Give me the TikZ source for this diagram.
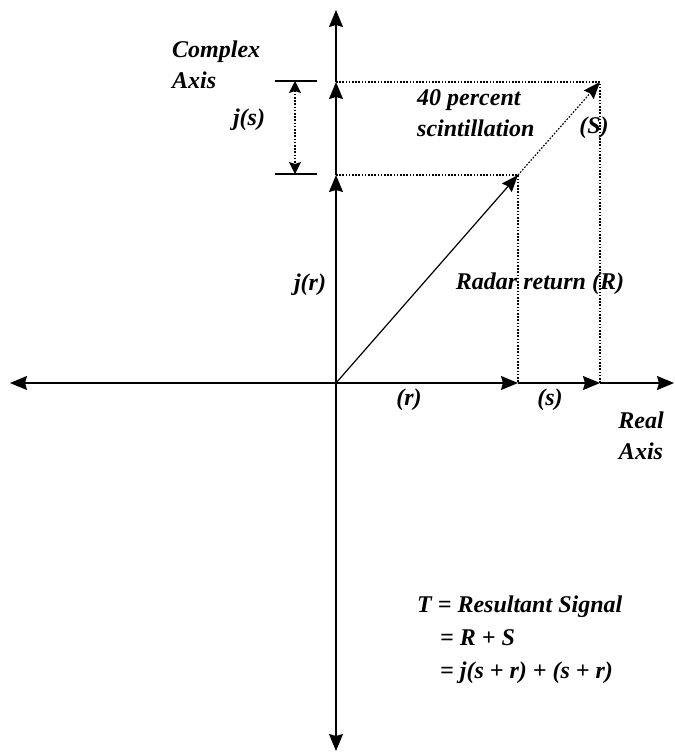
\documentclass[tikz,border=0pt]{standalone}
\usepackage{fontspec}
\setmainfont{Liberation Serif}
\usetikzlibrary{arrows.meta}
\tikzset{
  axisline/.style={line width=1.7pt,-{Stealth[length=17pt,width=14pt,inset=2pt]}},
  vecline/.style={line width=1.2pt,-{Stealth[length=17pt,width=13pt,inset=2pt]}},
  guide/.style={line width=1.2pt,dash pattern=on 1.6pt off 1.6pt},
  lbl/.style={font=\fontsize{24}{31}\selectfont\bfseries\itshape,inner sep=0pt},
}

\begin{document}
\begin{tikzpicture}[x=1pt,y=-1pt]
  \useasboundingbox (0,0) rectangle (675,753);
  \coordinate (O) at (336,383);
  \coordinate (Rpt) at (518,175);
  \coordinate (Spt) at (600,82);
  \coordinate (yr) at (336,175);
  \coordinate (ys) at (336,82);
  \coordinate (xr) at (518,383);
  \coordinate (xs) at (600,383);
  \coordinate (top) at (336,10);
  \coordinate (bot) at (336,751);
  \coordinate (lft) at (10,383);
  \coordinate (rgt) at (674,383);
  % axes
  \draw[axisline] (O) -- (yr);
  \draw[axisline] (yr) -- (ys);
  \draw[axisline] (ys) -- (top);
  \draw[axisline] (O) -- (bot);
  \draw[axisline] (O) -- (lft);
  \draw[axisline] (O) -- (xr);
  \draw[axisline] (xr) -- (xs);
  \draw[axisline] (xs) -- (rgt);
  % projections
  \draw[guide] (yr) -- (Rpt) -- (xr);
  \draw[guide] (ys) -- (Spt) -- (xs);
  \draw[vecline] (O) -- (Rpt);
  \draw[vecline,dash pattern=on 1.6pt off 1.6pt] (Rpt) -- (Spt);
  % j(s) span
  \coordinate (t1a) at (275,81);
  \coordinate (t1b) at (317,81);
  \coordinate (t2a) at (275,174);
  \coordinate (t2b) at (317,174);
  \draw[line width=1.5pt] (t1a) -- (t1b);
  \draw[line width=1.5pt] (t2a) -- (t2b);
  \draw[guide,{Stealth[length=12pt,width=12pt,inset=2pt]}-{Stealth[length=12pt,width=12pt,inset=2pt]}] (295,81) -- (295,174);
  % labels
  \node[lbl,anchor=west,align=left] (cplx) at (172,65) {Complex\\Axis};
  \node[lbl] (js) at (249,120) {j(s)};
  \node[lbl] (jr) at (310,285) {j(r)};
  \node[lbl,anchor=west,align=left] (scint) at (417,113) {40 percent\\scintillation};
  \node[lbl] (Slbl) at (594,128) {(S)};
  \node[lbl] (radar) at (540,284) {Radar return (R)};
  \node[lbl] (rlbl) at (409,400) {(r)};
  \node[lbl] (slbl) at (550,400) {(s)};
  \node[lbl,align=center] (real) at (641,436) {Real\\Axis};
  \node[lbl,anchor=base west] (res1) at (417,612) {T = Resultant Signal};
  \node[lbl,anchor=base west] (res2) at (440,645) {= R + S};
  \node[lbl,anchor=base west] (res3) at (440,678) {= j(s + r) + (s + r)};
\end{tikzpicture}
\end{document}
